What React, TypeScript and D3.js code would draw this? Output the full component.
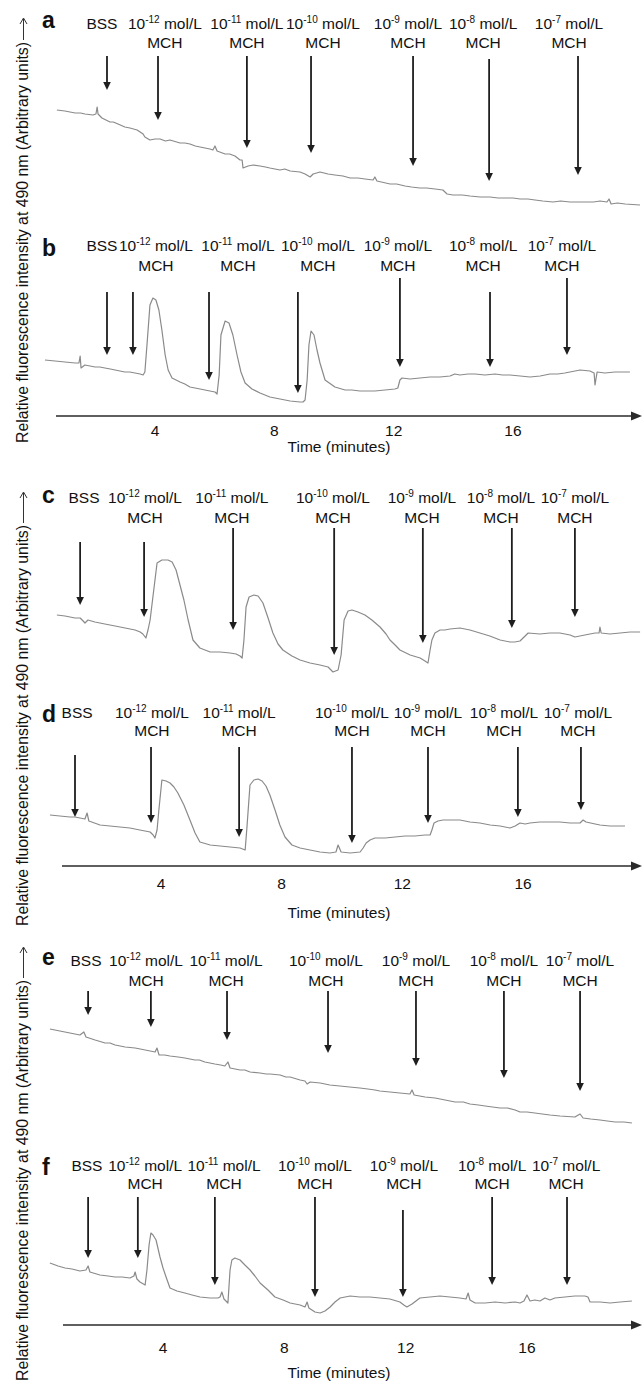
import * as d3 from "d3";

const ticks = [4, 8, 12, 16];
const exponents: (number | null)[] = [null, -12, -11, -10, -9, -8, -7];
const yTitle = "Relative fluorescence intensity at 490 nm (Arbitrary units)";

const traceA = [[0.71,100],[0.98,99],[1.32,97],[1.5,97],[1.65,96],[1.92,95],[2.02,96],[2.06,103],[2.09,96],[2.22,92],[2.49,88],[2.6,88],[2.76,86],[2.99,83],[3.16,82],[3.4,80],[3.6,76],[3.66,73],[3.83,70],[4.0,71],[4.17,71],[4.35,69],[4.5,70],[4.84,67],[5.0,67],[5.17,66],[5.35,64],[5.51,63],[5.84,61],[5.94,60],[6.01,64],[6.08,59],[6.35,56],[6.5,56],[6.68,54],[6.85,50],[6.92,50],[6.95,42],[7.12,44],[7.29,45],[7.52,44],[7.7,43],[7.85,42],[8.19,40],[8.35,41],[8.53,39],[8.86,38],[9.03,36],[9.2,33],[9.3,36],[9.53,38],[9.8,36],[10.03,35],[10.3,34],[10.54,32],[10.8,32],[11.04,31],[11.31,30],[11.37,33],[11.44,29],[11.88,26],[12.1,26],[12.38,24],[12.6,23],[12.88,22],[13.1,22],[13.39,21],[13.65,20],[13.79,16],[13.99,15],[14.3,15],[14.56,14],[14.9,13],[15.23,13],[15.5,12],[15.73,12],[16.0,12],[16.24,11],[16.5,11],[16.74,10],[17.0,9],[17.34,8],[17.6,9],[17.91,8],[18.2,8],[18.41,8],[18.7,8],[18.92,9],[19.15,8],[19.22,11],[19.29,6],[19.5,7],[19.76,6],[20.26,5]];
const traceB = [[0.31,50],[0.65,49],[0.98,48],[1.32,47],[1.45,47],[1.49,54],[1.52,42],[1.65,45],[1.99,43],[2.15,43],[2.32,42],[2.5,41],[2.66,40],[2.99,38],[3.15,38],[3.33,37],[3.5,36],[3.6,35],[3.66,38],[3.73,65],[3.83,105],[3.93,112],[4.03,110],[4.13,100],[4.23,80],[4.34,55],[4.44,40],[4.57,32],[4.84,28],[5.0,26],[5.17,23],[5.51,21],[5.84,19],[6.01,18],[6.08,16],[6.15,35],[6.21,75],[6.35,89],[6.48,87],[6.61,75],[6.75,55],[6.88,38],[7.02,27],[7.25,21],[7.52,17],[7.85,13],[8.19,11],[8.53,9],[8.86,8],[8.96,8],[9.03,10],[9.1,30],[9.16,65],[9.23,79],[9.33,75],[9.43,60],[9.53,47],[9.7,30],[10.03,23],[10.37,20],[10.6,20],[10.87,19],[11.1,19],[11.37,19],[11.71,20],[12.04,21],[12.14,22],[12.21,30],[12.28,32],[12.55,31],[12.88,32],[13.22,33],[13.55,33],[13.89,34],[14.05,36],[14.22,35],[14.49,36],[14.73,36],[15.06,35],[15.4,36],[15.65,35],[15.9,35],[16.24,34],[16.57,33],[16.91,34],[17.24,36],[17.5,36],[17.74,37],[18.08,39],[18.25,40],[18.58,39],[18.72,37],[18.75,25],[18.82,38],[19.08,37],[19.42,38],[19.92,38]];
const traceC = [[0.55,65],[0.82,64],[1.15,62],[1.32,62],[1.42,59],[1.48,57],[1.58,60],[1.81,58],[2.14,56],[2.48,54],[2.81,52],[3.14,50],[3.31,48],[3.4,46],[3.5,42],[3.57,50],[3.64,60],[3.74,85],[3.87,117],[4.03,120],[4.23,120],[4.37,118],[4.5,110],[4.63,95],[4.76,80],[4.9,60],[5.06,40],[5.29,32],[5.63,28],[5.96,28],[6.29,27],[6.49,26],[6.62,24],[6.69,22],[6.75,40],[6.82,73],[6.92,83],[7.08,85],[7.22,84],[7.38,77],[7.55,62],[7.71,47],[7.88,36],[8.04,30],[8.34,24],[8.61,20],[8.94,17],[9.27,15],[9.54,13],[9.7,8],[9.87,10],[9.97,25],[10.07,60],[10.2,69],[10.33,70],[10.53,68],[10.76,65],[10.99,60],[11.26,53],[11.46,46],[11.59,40],[11.76,35],[11.92,30],[12.26,25],[12.59,22],[12.75,19],[12.85,17],[12.92,30],[12.98,40],[13.08,47],[13.25,50],[13.41,50],[13.58,51],[13.91,52],[14.24,50],[14.57,47],[14.9,44],[15.24,40],[15.57,38],[15.73,38],[15.9,39],[16.07,44],[16.17,47],[16.56,46],[16.89,47],[17.22,47],[17.56,45],[17.72,43],[18.05,45],[18.39,47],[18.52,47],[18.55,53],[18.59,47],[18.88,46],[19.22,47],[19.55,48],[19.88,48]];
const traceD = [[0.32,45],[0.65,44],[0.98,43],[1.15,43],[1.48,41],[1.55,47],[1.61,39],[1.98,35],[2.31,34],[2.64,33],[2.97,32],[3.3,30],[3.64,28],[3.74,25],[3.8,22],[3.87,30],[3.93,50],[4.03,80],[4.17,79],[4.3,77],[4.43,73],[4.56,67],[4.76,55],[4.96,40],[5.13,27],[5.29,18],[5.63,15],[5.96,14],[6.29,13],[6.62,12],[6.79,10],[6.85,33],[6.95,75],[7.08,80],[7.22,81],[7.35,79],[7.48,74],[7.61,65],[7.78,50],[7.94,35],[8.11,23],[8.34,15],[8.61,12],[8.94,10],[9.27,8],[9.6,7],[9.8,8],[9.87,15],[9.97,8],[10.27,7],[10.6,8],[10.7,12],[10.8,17],[10.93,20],[11.09,22],[11.43,22],[11.76,23],[12.09,24],[12.42,24],[12.75,25],[12.92,25],[12.98,30],[13.05,37],[13.18,39],[13.35,40],[13.58,40],[13.91,40],[14.24,38],[14.57,37],[14.91,35],[15.24,34],[15.57,32],[15.74,34],[15.9,37],[16.07,36],[16.23,37],[16.56,38],[16.89,38],[17.22,38],[17.56,37],[17.89,37],[17.99,40],[18.09,38],[18.39,36],[18.55,35],[18.88,34],[19.38,34]];
const traceE = [[0.27,101],[0.6,99],[0.93,97],[1.26,95],[1.39,98],[1.46,93],[1.76,90],[2.09,87],[2.25,87],[2.42,85],[2.75,83],[3.08,82],[3.25,81],[3.41,80],[3.74,78],[3.8,82],[3.87,75],[4.05,75],[4.23,74],[4.5,73],[4.72,72],[5.05,70],[5.2,70],[5.38,68],[5.71,66],[5.9,65],[6.04,64],[6.14,68],[6.21,62],[6.54,60],[6.7,60],[6.87,58],[7.2,57],[7.4,56],[7.53,56],[7.86,55],[8.05,53],[8.19,53],[8.52,50],[8.68,49],[8.75,46],[8.85,48],[9.18,47],[9.5,45],[9.83,44],[10.15,43],[10.49,42],[10.75,41],[10.99,40],[11.15,39],[11.48,38],[11.81,37],[12.14,36],[12.21,40],[12.28,35],[12.64,33],[12.97,32],[13.3,30],[13.63,28],[13.9,28],[14.12,26],[14.4,25],[14.62,24],[15.11,22],[15.35,22],[15.61,20],[15.77,18],[16.0,18],[16.26,17],[16.5,16],[16.76,15],[17.09,14],[17.58,13],[17.75,16],[17.85,12],[18.1,11],[18.41,10],[18.65,9],[18.91,8],[19.2,8],[19.46,7]];
const traceF = [[0.27,57],[0.54,54],[0.77,52],[1.0,51],[1.26,49],[1.46,50],[1.53,54],[1.59,48],[1.92,45],[2.19,44],[2.42,43],[2.65,43],[2.91,42],[3.04,44],[3.08,48],[3.14,41],[3.24,38],[3.41,35],[3.47,50],[3.54,75],[3.6,87],[3.67,85],[3.77,80],[3.9,63],[4.0,52],[4.1,43],[4.23,32],[4.46,29],[4.72,27],[4.96,25],[5.22,23],[5.55,22],[5.81,22],[5.88,23],[5.94,28],[6.01,21],[6.14,17],[6.21,50],[6.27,60],[6.37,62],[6.54,60],[6.7,55],[6.87,50],[7.03,44],[7.2,37],[7.46,30],[7.69,23],[7.96,20],[8.19,17],[8.52,15],[8.68,13],[8.75,18],[8.81,12],[9.01,8],[9.18,7],[9.34,9],[9.51,13],[9.67,18],[9.84,22],[10.17,24],[10.49,23],[10.82,23],[11.15,22],[11.48,21],[11.81,18],[11.94,15],[12.04,13],[12.21,16],[12.47,22],[12.8,23],[13.13,24],[13.46,23],[13.79,22],[13.99,21],[14.06,27],[14.12,20],[14.29,17],[14.62,17],[14.95,18],[15.28,17],[15.61,18],[15.77,17],[15.9,19],[16.0,25],[16.1,19],[16.26,20],[16.43,19],[16.59,22],[16.76,20],[16.92,22],[17.25,23],[17.58,24],[17.91,24],[18.01,23],[18.08,18],[18.41,18],[18.74,17],[19.07,18],[19.46,19]];

// [time, arrow top, arrow tip]
const arrowsA = [[2.39,154,120],[4.1,154,90],[7.08,154,62],[9.23,154,57],[12.65,154,44],[15.2,151,29],[18.18,154,35]];
const arrowsB = [[2.39,118,55],[3.26,118,55],[5.81,118,30],[8.79,118,17],[12.21,132,43],[15.23,118,43],[17.81,132,55]];
const arrowsC = [[1.32,138,75],[3.44,138,63],[6.39,152,50],[9.74,152,25],[12.68,152,37],[15.63,152,52],[17.72,152,63]];
const arrowsD = [[1.15,105,43],[3.67,113,37],[6.59,113,23],[10.33,113,17],[12.85,113,37],[15.83,113,43],[17.92,113,50]];
const arrowsE = [[1.53,139,115],[3.6,139,103],[6.11,139,90],[9.44,139,77],[12.34,139,64],[15.24,139,52],[17.75,139,39]];
const arrowsF = [[1.53,123,62],[3.17,123,62],[5.71,123,35],[9.01,123,23],[11.91,110,23],[14.85,123,35],[17.32,123,35]];

const labelsA = [2.22, 4.33, 7.08, 9.63, 12.48, 15.0, 17.88];
const labelsB = [2.22, 4.03, 6.78, 9.46, 12.14, 15.0, 17.64];
const labelsC = [1.45, 3.47, 6.35, 9.7, 12.65, 15.27, 17.72];
const labelsD = [1.22, 3.7, 6.59, 10.33, 12.85, 15.37, 17.82];
const labelsE = [1.46, 3.44, 6.08, 9.37, 12.34, 15.24, 17.75];
const labelsF = [1.49, 3.41, 6.01, 9.01, 11.94, 14.85, 17.29];

const groups = [
  { x0: 35.7, x20: 632.3, titleBottom: 443, arrowFrom: 40, arrowTip: 18 },
  { x0: 40.3, x20: 643.7, titleBottom: 926, arrowFrom: 523, arrowTip: 492 },
  { x0: 41.7, x20: 648.3, titleBottom: 1381, arrowFrom: 978, arrowTip: 947 },
];

const panels = [
  { letter: "a", group: 0, bottom: 210, letterY: 28, l1: 28.5, l2: 47.5, trace: traceA, arrows: arrowsA, labels: labelsA },
  { letter: "b", group: 0, bottom: 410, letterY: 256, l1: 250.5, l2: 270.5, trace: traceB, arrows: arrowsB, labels: labelsB,
    axis: { y: 416, start: 56, tickY: 435.5, titleY: 451.5 } },
  { letter: "c", group: 1, bottom: 680, letterY: 503, l1: 502.5, l2: 522.5, trace: traceC, arrows: arrowsC, labels: labelsC },
  { letter: "d", group: 1, bottom: 860, letterY: 722, l1: 717.5, l2: 735.5, trace: traceD, arrows: arrowsD, labels: labelsD,
    axis: { y: 866, start: 62, tickY: 888.5, titleY: 917.5 } },
  { letter: "e", group: 2, bottom: 1130, letterY: 965, l1: 965.5, l2: 985.5, trace: traceE, arrows: arrowsE, labels: labelsE },
  { letter: "f", group: 2, bottom: 1320, letterY: 1175, l1: 1170.5, l2: 1188.5, trace: traceF, arrows: arrowsF, labels: labelsF,
    axis: { y: 1325, start: 63, tickY: 1352.5, titleY: 1377.5 } },
];

const font = "'Liberation Sans', Arial, Helvetica, sans-serif";

function Panel({ p }: { p: any }) {
  const g = groups[p.group];
  const x = d3.scaleLinear().domain([0, 20]).range([g.x0, g.x20]);
  const y = d3.scaleLinear().domain([0, 100]).range([p.bottom, p.bottom - 100]);
  const line = d3.line<number[]>().x(d => x(d[0])).y(d => y(d[1]));

  return (
    <g>
      <text x={42} y={p.letterY} fontSize={23} fontWeight="bold">{p.letter}</text>
      {p.labels.map((t: number, i: number) => {
        const e = exponents[i];
        if (e === null) {
          return <text key={i} x={x(t)} y={p.l1} textAnchor="middle">BSS</text>;
        }
        return (
          <g key={i}>
            <text x={x(t)} y={p.l1} textAnchor="middle">
              10<tspan dy={-6} fontSize={10}>{e}</tspan><tspan dy={6}>{" mol/L"}</tspan>
            </text>
            <text x={x(t)} y={p.l2} textAnchor="middle">MCH</text>
          </g>
        );
      })}
      {p.arrows.map((a: number[], i: number) => {
        const ax = x(a[0]);
        const tip = y(a[2]);
        return (
          <g key={i}>
            <line x1={ax} x2={ax} y1={y(a[1])} y2={tip - 6} stroke="#1e1e1e" strokeWidth={1.8} />
            <path d={`M${ax - 3.8},${tip - 8}L${ax + 3.8},${tip - 8}L${ax},${tip}Z`} fill="#1e1e1e" />
          </g>
        );
      })}
      <path d={line(p.trace) || ""} fill="none" stroke="#8a8a8a" strokeWidth={1.2} strokeLinejoin="round" />
      {p.axis && (
        <g>
          <line x1={p.axis.start} x2={634} y1={p.axis.y} y2={p.axis.y} stroke="#2a2a2a" strokeWidth={1.7} />
          <path d={`M642,${p.axis.y}L631,${p.axis.y - 4.5}L631,${p.axis.y + 4.5}Z`} fill="#2a2a2a" />
          {ticks.map(t => (
            <text key={t} x={x(t)} y={p.axis.tickY} textAnchor="middle">{t}</text>
          ))}
          <text x={339} y={p.axis.titleY} textAnchor="middle">Time (minutes)</text>
        </g>
      )}
    </g>
  );
}

export default function App() {
  return (
    <svg width={642} height={1381} style={{ position: "absolute", left: 0, top: 0, background: "#fff" }}
      fontFamily={font} fontSize={15.5} fill="#111">
      {groups.map((g, i) => (
        <g key={i}>
          <text transform={`translate(28,${g.titleBottom}) rotate(-90)`} fontSize={15.8}
            textLength={g.titleBottom - g.arrowFrom - 2} lengthAdjust="spacingAndGlyphs">{yTitle}</text>
          <line x1={23.5} x2={23.5} y1={g.arrowFrom} y2={g.arrowTip + 1} stroke="#333" strokeWidth={1} />
          <path d={`M20,${g.arrowTip + 6}L23.5,${g.arrowTip}L27,${g.arrowTip + 6}`} fill="none" stroke="#333" strokeWidth={1} />
        </g>
      ))}
      {panels.map(p => <Panel key={p.letter} p={p} />)}
    </svg>
  );
}
